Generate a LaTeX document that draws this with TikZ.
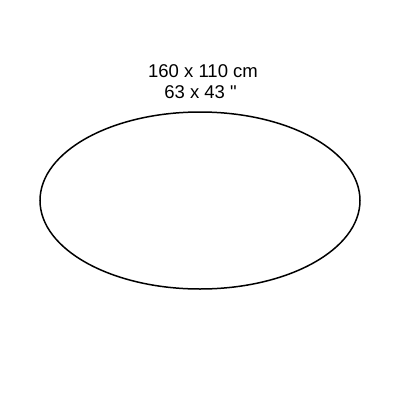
\documentclass[tikz,border=0pt]{standalone}
\usepackage{fontspec}
\setmainfont{Liberation Sans}[Ligatures=TeXOff]
\begin{document}
\begin{tikzpicture}[x=1pt,y=-1pt,
  lbl/.style={font=\fontsize{18.5}{22}\selectfont, inner sep=0pt, anchor=base}]
\useasboundingbox (0,0) rectangle (400,400);
\node[lbl] (t1) at (203,77) {160 x 110 cm};
\node[lbl] (t2) at (200.5,98.5) {63 x 43 "};
\draw[line width=1.5pt] (200,200.5) ellipse [x radius=160, y radius=88.5];
\end{tikzpicture}
\end{document}
